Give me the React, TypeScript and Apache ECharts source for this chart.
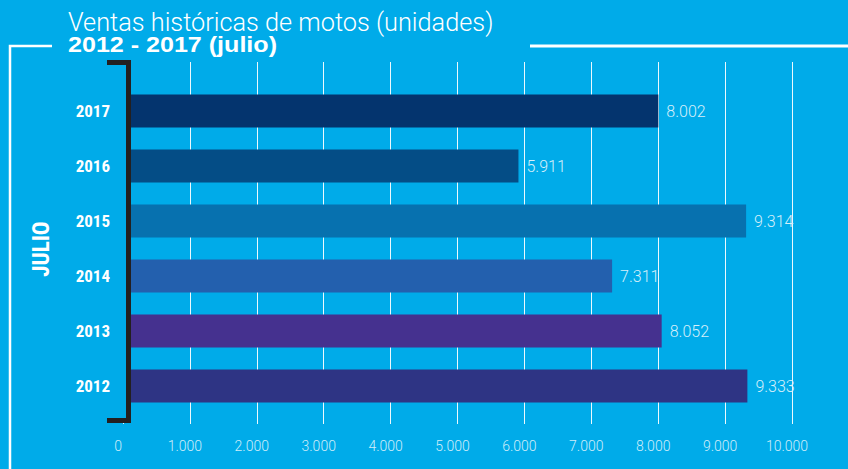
import React, { useEffect, useRef } from "react";
import * as echarts from "echarts";

const years = ["2012", "2013", "2014", "2015", "2016", "2017"];
const sales = [9333, 8052, 7311, 9314, 5911, 8002];
const barColors = ["#2E3484", "#45318F", "#2360AE", "#0771AF", "#044D86", "#04346E"];
const xTickValues = [0, 1000, 2000, 3000, 4000, 5000, 6000, 7000, 8000, 9000, 10000];

const titleText = "Ventas históricas de motos (unidades)";
const subtitleText = "2012 - 2017 (julio)";
const sideLabel = "JULIO";

const BG = "#00ABE9";
const NARROW = "'Roboto Condensed', 'Liberation Sans Narrow', sans-serif";
const LIGHT = "Roboto, 'Liberation Sans', sans-serif";
const BOLD = "'Liberation Sans', Arial, sans-serif";

function fmt(v: number): string {
  return v.toLocaleString("de-DE");
}

export default function App() {
  const ref = useRef<HTMLDivElement>(null);
  useEffect(() => {
    if (!ref.current) return;
    const chart = echarts.init(ref.current, undefined, { renderer: "svg" });
    const option: any = {
      animation: false,
      backgroundColor: BG,
      grid: [
        { left: 123, right: 56, top: 62, bottom: 45 },
        { left: 123, right: 56, top: 83.5, height: 330 },
      ],
      xAxis: [
        {
          gridIndex: 0,
          type: "value",
          min: 0,
          max: 10000,
          interval: 1000,
          axisLine: { show: false },
          axisTick: { show: false },
          splitLine: { show: true, lineStyle: { color: "rgba(255,255,255,0.92)", width: 1 } },
          axisLabel: {
            color: "#CFEDF9",
            fontFamily: LIGHT,
            fontWeight: 300,
            fontSize: 14,
            margin: 15,
            padding: [0, 10, 0, 0],
            formatter: (v: number) => (xTickValues.includes(v) ? fmt(v) : ""),
          },
        },
        {
          gridIndex: 1,
          type: "value",
          min: 0,
          max: 10000,
          show: false,
        },
      ],
      yAxis: [
        { gridIndex: 0, type: "category", data: years, show: false },
        {
          gridIndex: 1,
          type: "category",
          data: years,
          axisLine: { show: false },
          axisTick: { show: false },
          splitLine: { show: false },
          axisLabel: {
            color: "#FFFFFF",
            fontFamily: NARROW,
            fontWeight: "bold",
            fontSize: 17,
            margin: 13,
          },
        },
      ],
      series: [
        {
          type: "bar",
          xAxisIndex: 1,
          yAxisIndex: 1,
          barCategoryGap: "40%",
          data: sales.map((v, i) => ({ value: v, itemStyle: { color: barColors[i] } })),
          label: {
            show: true,
            position: "right",
            distance: 8,
            color: "#D6EFFA",
            fontFamily: LIGHT,
            fontWeight: 300,
            fontSize: 16,
            formatter: (p: any) => fmt(p.value),
          },
        },
      ],
      graphic: [
        {
          type: "rect",
          z: 9,
          shape: { x: 119, y: 64, width: 7.5, height: 355 },
          style: { fill: BG },
        },
        {
          type: "polyline",
          z: 10,
          shape: { points: [[10, 469], [10, 46], [52, 46]] },
          style: { stroke: "#FFFFFF", lineWidth: 2.5, fill: "none" },
        },
        {
          type: "line",
          z: 10,
          shape: { x1: 530, y1: 46, x2: 848, y2: 46 },
          style: { stroke: "#FFFFFF", lineWidth: 3 },
        },
        {
          type: "polyline",
          z: 10,
          shape: { points: [[107, 62.5], [128.5, 62.5], [128.5, 420.5], [107, 420.5]] },
          style: { stroke: "#231F20", lineWidth: 5, fill: "none", lineJoin: "miter" },
        },
        {
          type: "text",
          z: 10,
          x: 68,
          y: 22,
          style: {
            text: titleText,
            fill: "#FFFFFF",
            font: `300 25.3px ${LIGHT}`,
            verticalAlign: "middle",
          },
        },
        {
          type: "text",
          z: 10,
          x: 68,
          y: 45,
          scaleX: 1.14,
          style: {
            text: subtitleText,
            fill: "#FFFFFF",
            font: `bold 22px ${BOLD}`,
            verticalAlign: "middle",
          },
        },
        {
          type: "text",
          z: 10,
          x: 41,
          y: 249,
          rotation: Math.PI / 2,
          style: {
            text: sideLabel,
            fill: "#FFFFFF",
            font: `bold 23px ${NARROW}`,
            align: "center",
            verticalAlign: "middle",
          },
        },
      ],
    };
    chart.setOption(option);
    return () => chart.dispose();
  }, []);
  return (
    <div
      ref={ref}
      style={{ position: "absolute", left: 0, top: 0, width: 848, height: 469 }}
    />
  );
}
